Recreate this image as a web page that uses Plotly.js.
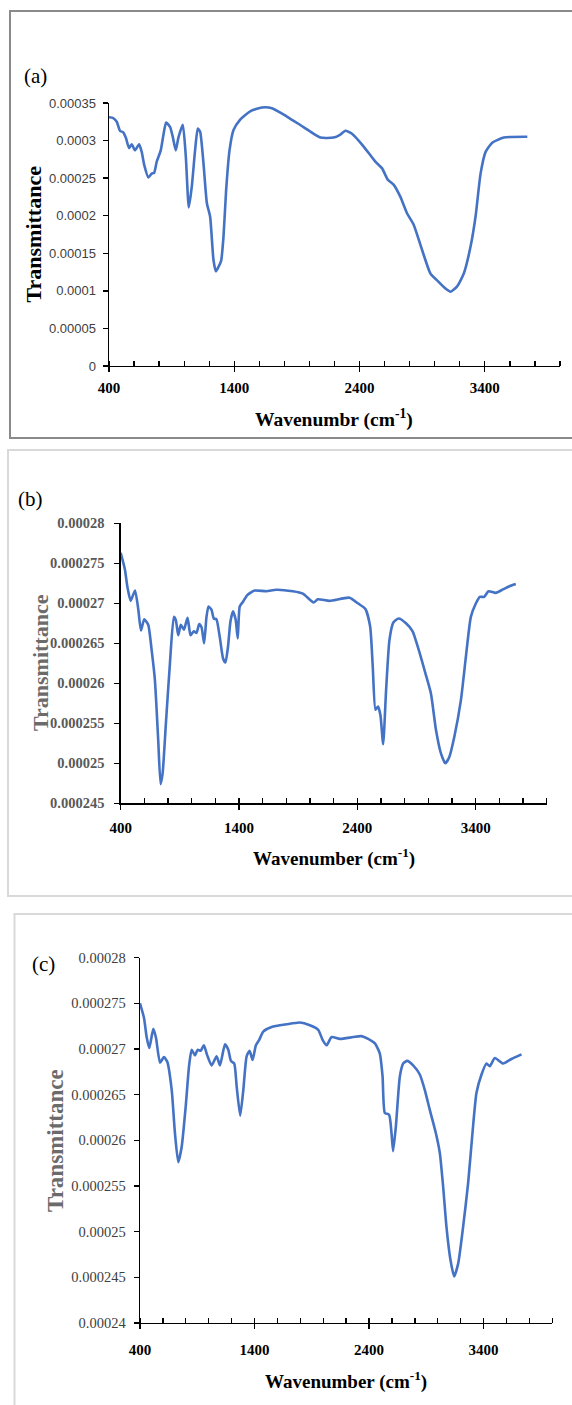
<!DOCTYPE html>
<html>
<head>
<meta charset="utf-8">
<script src="https://cdn.plot.ly/plotly-3.0.1.min.js"></script>
<style>html,body{margin:0;padding:0;background:#fff;}#chart{width:572px;height:1405px;}</style>
</head>
<body>
<div id="chart"></div>
<script>
// ---- Data ----
const waveA = [400,434,462,488,514,536,560,581,608,640,661,682,714,741,760,781,813,834,856,888,909,933,954,989,1013,1037,1061,1087,1109,1127,1154,1181,1207,1234,1253,1274,1295,1314,1335,1362,1394,1447,1527,1621,1701,1820,1953,2087,2193,2247,2287,2340,2433,2526,2580,2625,2673,2726,2780,2832,2900,2966,3019,3086,3126,3179,3232,3286,3326,3366,3406,3459,3552,3739];
const transA = [0.000331,0.000330,0.000325,0.000313,0.000311,0.000303,0.000290,0.000295,0.000287,0.000295,0.000285,0.000267,0.000251,0.000256,0.000257,0.000272,0.000287,0.000307,0.000324,0.000318,0.000305,0.000287,0.000304,0.000321,0.000279,0.000211,0.000239,0.000287,0.000316,0.000312,0.000270,0.000217,0.000199,0.000141,0.000126,0.000132,0.000140,0.000172,0.000234,0.000287,0.000314,0.000328,0.000339,0.000344,0.000343,0.000332,0.000318,0.000304,0.000304,0.000308,0.000313,0.000309,0.000292,0.000272,0.000263,0.000248,0.000241,0.000225,0.000203,0.000188,0.000154,0.000123,0.000114,0.000103,0.0000989,0.000106,0.000123,0.000159,0.000199,0.000256,0.000285,0.000297,0.000304,0.000305];

const waveB = [400,436,456,484,521,549,571,599,633,661,689,717,737,754,782,816,849,866,886,908,934,965,990,1018,1041,1063,1083,1105,1125,1142,1167,1187,1209,1237,1265,1285,1307,1327,1349,1372,1389,1406,1434,1468,1532,1631,1715,1855,1940,2030,2066,2165,2333,2404,2468,2508,2530,2553,2575,2595,2618,2643,2671,2704,2749,2811,2867,2918,2974,3022,3064,3107,3143,3177,3219,3275,3317,3359,3402,3435,3472,3508,3570,3626,3682,3739];
const transB = [0.0002763,0.0002742,0.0002721,0.0002703,0.0002716,0.0002692,0.0002666,0.0002680,0.0002673,0.0002642,0.0002604,0.0002529,0.0002474,0.0002487,0.0002550,0.0002625,0.0002683,0.0002679,0.0002660,0.0002673,0.0002667,0.0002682,0.0002660,0.0002665,0.0002663,0.0002674,0.0002670,0.0002650,0.0002683,0.0002696,0.0002692,0.0002681,0.0002680,0.0002658,0.0002631,0.0002626,0.0002646,0.0002677,0.0002690,0.0002679,0.0002656,0.0002696,0.0002702,0.0002710,0.0002716,0.0002715,0.0002717,0.0002715,0.0002712,0.0002701,0.0002705,0.0002703,0.0002707,0.0002700,0.0002693,0.0002671,0.0002621,0.0002567,0.0002571,0.0002560,0.0002524,0.0002592,0.0002654,0.0002676,0.0002681,0.0002675,0.0002665,0.0002642,0.0002613,0.0002587,0.0002542,0.0002512,0.0002500,0.0002508,0.0002533,0.0002579,0.0002633,0.0002683,0.0002700,0.0002708,0.0002708,0.0002715,0.0002713,0.0002717,0.0002721,0.0002724];

const waveC = [400,435,458,481,516,540,575,609,638,677,705,734,764,799,828,851,880,903,930,958,987,1025,1069,1098,1142,1171,1194,1223,1244,1275,1302,1331,1357,1383,1412,1441,1476,1549,1680,1796,1883,1956,1994,2029,2073,2145,2261,2334,2392,2451,2494,2518,2538,2575,2596,2610,2634,2669,2698,2733,2785,2843,2887,2931,2983,3018,3047,3076,3111,3143,3178,3221,3265,3303,3338,3382,3425,3454,3498,3570,3643,3731];
const transC = [0.0002750,0.0002734,0.0002713,0.0002701,0.0002722,0.0002712,0.0002685,0.0002691,0.0002686,0.0002655,0.0002608,0.0002576,0.0002593,0.0002637,0.0002681,0.0002699,0.0002693,0.0002699,0.0002698,0.0002704,0.0002693,0.0002682,0.0002692,0.0002682,0.0002705,0.0002699,0.0002687,0.0002684,0.0002659,0.0002627,0.0002655,0.0002692,0.0002698,0.0002688,0.0002704,0.0002710,0.0002719,0.0002724,0.0002727,0.0002729,0.0002726,0.0002721,0.0002710,0.0002704,0.0002713,0.0002711,0.0002713,0.0002714,0.0002711,0.0002706,0.0002695,0.0002670,0.0002630,0.0002628,0.0002608,0.0002588,0.0002615,0.0002670,0.0002684,0.0002687,0.0002682,0.0002672,0.0002655,0.0002633,0.0002608,0.0002586,0.0002549,0.0002505,0.0002469,0.0002451,0.0002465,0.0002505,0.0002553,0.0002608,0.0002652,0.0002672,0.0002684,0.0002681,0.0002690,0.0002684,0.0002689,0.0002694];

// ---- Tick labels ----
const xTickVals = [400,1400,2400,3400];
const xTickText = ['400','1400','2400','3400'];
const xMinorVals = [400,600,800,1000,1200,1400,1600,1800,2000,2200,2400,2600,2800,3000,3200,3400,3600,3800,4000];
const yTickValsA = [0,0.00005,0.0001,0.00015,0.0002,0.00025,0.0003,0.00035];
const yTickTextA = ['0','0.00005','0.0001','0.00015','0.0002','0.00025','0.0003','0.00035'];
const yTickValsB = [0.000245,0.00025,0.000255,0.00026,0.000265,0.00027,0.000275,0.00028];
const yTickTextB = ['0.000245','0.00025','0.000255','0.00026','0.000265','0.00027','0.000275','0.00028'];
const yTickValsC = [0.00024,0.000245,0.00025,0.000255,0.00026,0.000265,0.00027,0.000275,0.00028];
const yTickTextC = ['0.00024','0.000245','0.00025','0.000255','0.00026','0.000265','0.00027','0.000275','0.00028'];

const panelLabels = ['(a)','(b)','(c)'];
const xTitles = ['Wavenumbr (cm<sup>-1</sup>)','Wavenumber (cm<sup>-1</sup>)','Wavenumber (cm<sup>-1</sup>)'];
const yTitle = 'Transmittance';

// ---- Layout helpers ----
const W = 572, H = 1405;
const px = x => x / W;
const py = y => 1 - y / H;
const SERIF = 'Liberation Serif, Times New Roman, serif';
const LINE = {color:'#4472C4', width:2.6, shape:'spline', smoothing:0.55};

function xAxis(dom, anchor, lblStandoff){
  return {
    domain: dom, anchor: anchor, range:[400,4000],
    tickmode:'array', tickvals:xTickVals, ticktext:xTickText,
    ticks:'outside', ticklen:5, tickwidth:1.3, tickcolor:'#000',
    minor:{tickmode:'array', tickvals:xMinorVals, ticks:'inside', ticklen:5, tickwidth:1.3, tickcolor:'#000', showgrid:false},
    showline:true, linecolor:'#000', linewidth:1.4, showgrid:false, zeroline:false,
    tickfont:{family:SERIF, size:15, color:'#000', weight:'bold'}, ticklabelstandoff: lblStandoff,
    fixedrange:true
  };
}
function yAxis(dom, anchor, range, vals, text, tfont, lblStandoff){
  return {
    domain: dom, anchor: anchor, range: range,
    tickmode:'array', tickvals:vals, ticktext:text,
    ticks:'outside', ticklen:5, tickwidth:1.3, tickcolor:'#000',
    showline:true, linecolor:'#000', linewidth:1.4, showgrid:false, zeroline:false,
    tickfont: tfont, ticklabelstandoff: lblStandoff,
    fixedrange:true
  };
}
function note(text, x, y, font, angle){
  return {text:text, xref:'paper', yref:'paper', x:px(x), y:py(y), xanchor:'center', yanchor:'middle',
          showarrow:false, textangle: angle || 0, font:font};
}

const data = [
  {x:waveA, y:transA, xaxis:'x',  yaxis:'y',  mode:'lines', line:LINE, hoverinfo:'skip'},
  {x:waveB, y:transB, xaxis:'x2', yaxis:'y2', mode:'lines', line:LINE, hoverinfo:'skip'},
  {x:waveC, y:transC, xaxis:'x3', yaxis:'y3', mode:'lines', line:LINE, hoverinfo:'skip'}
];

const xTitleFont = {family:SERIF, size:19, color:'#000', weight:'bold'};
const layout = {
  width:W, height:H, margin:{l:0,r:0,t:0,b:0,pad:0},
  paper_bgcolor:'#fff', plot_bgcolor:'rgba(0,0,0,0)', showlegend:false,
  xaxis:  xAxis([px(109), px(560)], 'y', 3),
  yaxis:  yAxis([py(366), py(103)], 'x',  [0,0.00035], yTickValsA, yTickTextA,
                {family:'Liberation Sans, Arial, sans-serif', size:13, color:'#404040'}, 4),
  xaxis2: xAxis([px(120.7), px(546.7)], 'y2', 5),
  yaxis2: yAxis([py(803.3), py(523.3)], 'x2', [0.000245,0.00028], yTickValsB, yTickTextB,
                {family:SERIF, size:14.5, color:'#595959', weight:'bold'}, 7),
  xaxis3: xAxis([px(140), px(552.3)], 'y3', 8),
  yaxis3: yAxis([py(1323), py(957.6)], 'x3', [0.00024,0.00028], yTickValsC, yTickTextC,
                {family:SERIF, size:14.5, color:'#404040'}, 5),
  annotations: [
    note(panelLabels[0], 35, 76,  {family:SERIF, size:21, color:'#000'}),
    note(panelLabels[1], 31, 499, {family:SERIF, size:21, color:'#000'}),
    note(panelLabels[2], 43, 964, {family:SERIF, size:21, color:'#000'}),
    note(xTitles[0], 334, 418,  {family:SERIF, size:19.5, color:'#000', weight:'bold'}),
    note(xTitles[1], 334, 857,  xTitleFont),
    note(xTitles[2], 346, 1380, xTitleFont),
    note(yTitle, 33, 234.5, {family:SERIF, size:22, color:'#000', weight:'bold'}, -90),
    note(yTitle, 40, 663,   {family:SERIF, size:22, color:'#6b6b6b', weight:'bold'}, -90),
    note(yTitle, 55, 1141,  {family:SERIF, size:23, color:'#6b6b6b', weight:'bold'}, -90)
  ],
  shapes: [
    // panel (a) frame
    {type:'line', xref:'paper', yref:'paper', x0:px(10), x1:px(10), y0:py(11), y1:py(438), line:{color:'#8a8a8a', width:2}},
    {type:'line', xref:'paper', yref:'paper', x0:px(9), x1:px(572), y0:py(11), y1:py(11), line:{color:'#8a8a8a', width:2}},
    {type:'line', xref:'paper', yref:'paper', x0:px(9), x1:px(572), y0:py(438), y1:py(438), line:{color:'#8a8a8a', width:2}},
    // panel (b) frame
    {type:'line', xref:'paper', yref:'paper', x0:px(8), x1:px(8), y0:py(450), y1:py(896), line:{color:'#d9d9d9', width:2}},
    {type:'line', xref:'paper', yref:'paper', x0:px(7), x1:px(572), y0:py(450), y1:py(450), line:{color:'#d9d9d9', width:2}},
    {type:'line', xref:'paper', yref:'paper', x0:px(7), x1:px(572), y0:py(896), y1:py(896), line:{color:'#d9d9d9', width:2}},
    // panel (c) frame
    {type:'line', xref:'paper', yref:'paper', x0:px(14.5), x1:px(14.5), y0:py(914), y1:py(1405), line:{color:'#d9d9d9', width:2}},
    {type:'line', xref:'paper', yref:'paper', x0:px(13.5), x1:px(572), y0:py(914), y1:py(914), line:{color:'#d9d9d9', width:2}}
  ]
};

Plotly.newPlot('chart', data, layout, {staticPlot:true, displayModeBar:false});
</script>
</body>
</html>
